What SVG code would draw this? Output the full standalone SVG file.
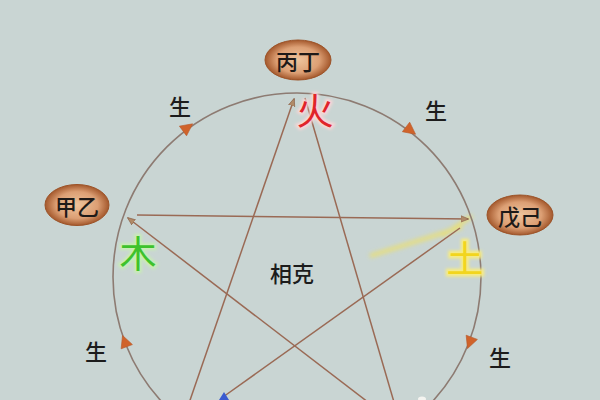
<svg xmlns="http://www.w3.org/2000/svg" width="600" height="400" viewBox="0 0 600 400">
  <defs>
    <style>
      .cjk { font-family: "Noto Sans CJK SC", "Noto Sans", sans-serif; text-anchor: middle; dominant-baseline: central; }
      .lbl { font-size: 22px; fill: #1c1c1c; font-weight: 500; }
      .stem { font-size: 22px; fill: #1e1a18; font-weight: 500; }
      .elem { font-size: 37px; }
      .ring { fill: none; stroke: #8d7b72; stroke-width: 1.6; }
      .ke { fill: none; stroke: #9a6a55; stroke-width: 1.5; }
      .carrow { fill: #d0632a; stroke: #b85a2c; stroke-width: 0.6; }
      .oval { fill: url(#ovalGrad); stroke: #9c5328; stroke-width: 1; }
    </style>
    <radialGradient id="ovalGrad" cx="50%" cy="50%" r="50%">
      <stop offset="0" stop-color="#eec49c"/>
      <stop offset="0.65" stop-color="#dc9f74"/>
      <stop offset="1" stop-color="#a4582c"/>
    </radialGradient>
    <filter id="blur" x="-20%" y="-50%" width="140%" height="200%">
      <feGaussianBlur stdDeviation="2"/>
    </filter>
    <filter id="glow" x="-30%" y="-30%" width="160%" height="160%">
      <feGaussianBlur stdDeviation="1.5"/>
    </filter>
    <marker id="keArrow" viewBox="0 0 10 10" refX="9" refY="5" markerWidth="8" markerHeight="8" orient="auto" markerUnits="userSpaceOnUse">
      <path d="M0,1 L10,5 L0,9 Z" fill="#b08a68" stroke="#8a6048" stroke-width="0.8"/>
    </marker>
    <path id="ca" d="M7,0 L-5,-6 L-5,6 Z"/>
  </defs>

  <!-- background -->
  <rect x="0" y="0" width="600" height="400" fill="#c9d5d3"/>

  <!-- glow streaks near earth -->
  <g id="earth-glow" filter="url(#blur)" opacity="0.7">
    <line x1="370" y1="256" x2="462" y2="227" stroke="#f3e25a" stroke-width="4"/>
    <line x1="442" y1="236" x2="472" y2="216" stroke="#f3e25a" stroke-width="4"/>
  </g>

  <!-- connectors -->
  <g id="connectors">
    <circle class="ring" cx="297" cy="277" r="184"/>
    <!-- generating cycle arrows on circle -->
    <use href="#ca" class="carrow" transform="translate(187,128) rotate(-36.4)"/>
    <use href="#ca" class="carrow" transform="translate(410,130) rotate(37.5)"/>
    <use href="#ca" class="carrow" transform="translate(470,342) rotate(110.6)"/>
    <use href="#ca" class="carrow" transform="translate(125,342) rotate(-110.7)"/>
    <!-- overcoming cycle (pentagram) -->
    <line class="ke" x1="137" y1="215" x2="468" y2="219" marker-end="url(#keArrow)"/>
    <line class="ke" x1="420" y1="442" x2="128" y2="218" marker-end="url(#keArrow)"/>
    <line class="ke" x1="178" y1="435" x2="294" y2="99" marker-end="url(#keArrow)"/>
    <line class="ke" x1="305" y1="98" x2="408" y2="450"/>
    <line class="ke" x1="460" y1="228" x2="223" y2="397"/>
  </g>

  <!-- partial marks at bottom edge -->
  <path d="M219,400 L224,392 L229,400 Z" fill="#3a5bd0"/>
  <ellipse cx="422" cy="399" rx="4" ry="2.5" fill="#f4f4f0"/>

  <!-- nodes -->
  <g id="node-fire">
    <ellipse class="oval" cx="298" cy="60" rx="33" ry="20"/>
    <text class="cjk stem" x="298" y="60">丙丁</text>
    <text class="cjk elem" x="315" y="109" fill="#ffd0d0" stroke="#ffd6d6" stroke-width="4" filter="url(#glow)">火</text>
    <text class="cjk elem" x="315" y="109" fill="#e0242a">火</text>
  </g>
  <g id="node-wood">
    <ellipse class="oval" cx="77" cy="205" rx="32" ry="20.5"/>
    <text class="cjk stem" x="77" y="205">甲乙</text>
    <text class="cjk elem" x="138" y="252" fill="#c8f0b0" stroke="#c8f0b0" stroke-width="4" filter="url(#glow)">木</text>
    <text class="cjk elem" x="138" y="252" fill="#3ec22c">木</text>
  </g>
  <g id="node-earth">
    <ellipse class="oval" cx="520" cy="215" rx="33" ry="20"/>
    <text class="cjk stem" x="520" y="215">戊己</text>
    <text class="cjk elem" x="465" y="257" fill="#f8ec80" stroke="#f8ec80" stroke-width="5" filter="url(#glow)">土</text>
    <text class="cjk elem" x="465" y="257" fill="#f2d51e">土</text>
  </g>

  <!-- labels -->
  <g id="labels">
    <text class="cjk lbl" x="180" y="105">生</text>
    <text class="cjk lbl" x="436" y="109">生</text>
    <text class="cjk lbl" x="96" y="350">生</text>
    <text class="cjk lbl" x="500" y="356">生</text>
    <text class="cjk lbl" x="292" y="272">相克</text>
  </g>
</svg>
